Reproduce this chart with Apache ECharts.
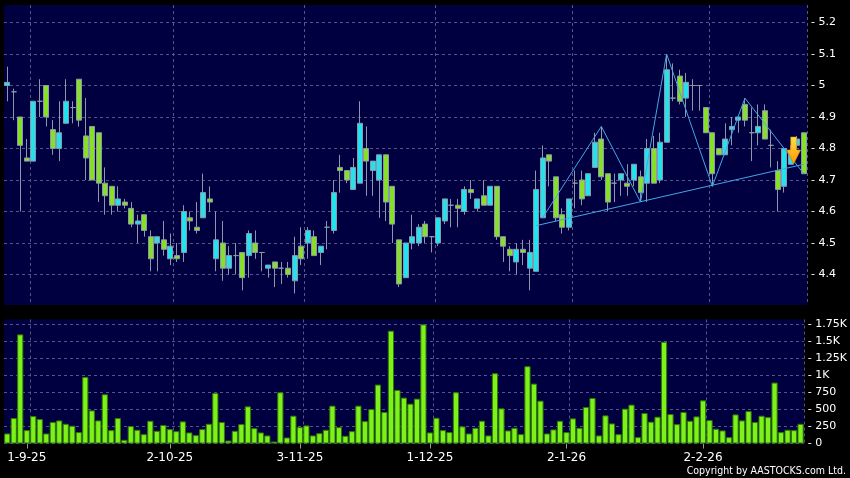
<!DOCTYPE html>
<html>
<head>
<meta charset="utf-8">
<script src="https://cdn.jsdelivr.net/npm/echarts@6/dist/echarts.min.js"></script>
<style>
html,body{margin:0;padding:0;background:#000;}
#c{width:850px;height:478px;}
</style>
</head>
<body>
<div id="c"></div>
<script>
const dates = [
'27-8-25','28-8-25','29-8-25',
'1-9-25','2-9-25','3-9-25','4-9-25','5-9-25','8-9-25','9-9-25','10-9-25','11-9-25','12-9-25','15-9-25','16-9-25','17-9-25','18-9-25','19-9-25','22-9-25','23-9-25','24-9-25','25-9-25','26-9-25','29-9-25','30-9-25',
'2-10-25','3-10-25','6-10-25','8-10-25','9-10-25','10-10-25','13-10-25','14-10-25','15-10-25','16-10-25','17-10-25','20-10-25','21-10-25','22-10-25','23-10-25','24-10-25','27-10-25','28-10-25','30-10-25','31-10-25',
'3-11-25','4-11-25','5-11-25','6-11-25','7-11-25','10-11-25','11-11-25','12-11-25','13-11-25','14-11-25','17-11-25','18-11-25','19-11-25','20-11-25','21-11-25','24-11-25','25-11-25','26-11-25','27-11-25','28-11-25',
'1-12-25','2-12-25','3-12-25','4-12-25','5-12-25','8-12-25','9-12-25','10-12-25','11-12-25','12-12-25','15-12-25','16-12-25','17-12-25','18-12-25','19-12-25','22-12-25','23-12-25','24-12-25','29-12-25','30-12-25','31-12-25',
'2-1-26','5-1-26','6-1-26','7-1-26','8-1-26','9-1-26','12-1-26','13-1-26','14-1-26','15-1-26','16-1-26','19-1-26','20-1-26','21-1-26','22-1-26','23-1-26','26-1-26','27-1-26','28-1-26','29-1-26','30-1-26',
'2-2-26','3-2-26','4-2-26','5-2-26','6-2-26','9-2-26','10-2-26','11-2-26','12-2-26','13-2-26','16-2-26','20-2-26','23-2-26','24-2-26','25-2-26','26-2-26'
];
const labelDates = ['1-9-25','2-10-25','3-11-25','1-12-25','2-1-26','2-2-26'];

const opens = [
5.00,4.98,4.90,4.77,4.76,4.95,5.00,4.86,4.80,4.88,
4.93,5.02,4.84,4.87,4.85,4.69,4.68,4.62,4.63,4.61,
4.56,4.59,4.52,4.50,4.51,4.45,4.46,4.47,4.58,4.55,
4.58,4.64,4.45,4.50,4.42,4.46,4.47,4.46,4.50,4.47,
4.42,4.44,4.42,4.42,4.38,4.49,4.50,4.52,4.47,4.55,
4.54,4.74,4.73,4.67,4.69,4.80,4.73,4.70,4.78,4.68,
4.51,4.39,4.50,4.50,4.56,4.52,4.50,4.57,4.62,4.62,
4.60,4.67,4.61,4.65,4.62,4.68,4.52,4.48,4.44,4.48,
4.42,4.41,4.58,4.78,4.71,4.59,4.55,4.69,4.70,4.65,
4.74,4.83,4.72,4.69,4.70,4.69,4.70,4.71,4.69,4.80,
4.70,4.82,4.96,5.03,4.96,5.00,5.00,4.93,4.85,4.80,
4.78,4.86,4.89,4.94,4.85,4.85,4.92,4.81,4.73,4.68,
4.75,4.81,4.85];
const closes = [
5.01,4.98,4.81,4.76,4.95,4.95,4.90,4.80,4.85,4.95,
4.93,4.89,4.77,4.70,4.69,4.65,4.62,4.64,4.62,4.56,
4.57,4.54,4.45,4.52,4.48,4.49,4.45,4.60,4.57,4.54,
4.66,4.63,4.51,4.42,4.46,4.46,4.39,4.53,4.47,4.47,
4.43,4.42,4.42,4.40,4.46,4.45,4.54,4.46,4.49,4.55,
4.66,4.73,4.70,4.74,4.88,4.76,4.76,4.78,4.63,4.56,
4.37,4.50,4.52,4.55,4.52,4.52,4.58,4.64,4.62,4.61,
4.67,4.66,4.64,4.62,4.68,4.52,4.49,4.46,4.48,4.47,
4.47,4.67,4.77,4.76,4.58,4.55,4.64,4.69,4.64,4.72,
4.82,4.71,4.63,4.69,4.72,4.68,4.75,4.66,4.80,4.69,
4.82,5.05,4.96,4.95,5.01,5.00,5.00,4.85,4.72,4.78,
4.83,4.87,4.90,4.89,4.85,4.87,4.83,4.81,4.67,4.80,
4.79,4.83,4.72];
const lows = [
4.95,4.89,4.60,4.76,4.76,4.90,4.87,4.78,4.76,4.88,
4.88,4.87,4.70,4.70,4.63,4.59,4.59,4.60,4.61,4.55,
4.50,4.52,4.41,4.41,4.46,4.43,4.44,4.44,4.54,4.53,
4.58,4.60,4.41,4.38,4.40,4.40,4.35,4.39,4.45,4.41,
4.39,4.36,4.37,4.39,4.34,4.43,4.45,4.46,4.43,4.48,
4.53,4.66,4.69,4.67,4.69,4.65,4.65,4.58,4.57,4.50,
4.36,4.39,4.48,4.49,4.50,4.47,4.49,4.56,4.55,4.55,
4.59,4.64,4.60,4.62,4.62,4.51,4.44,4.41,4.40,4.43,
4.35,4.41,4.58,4.68,4.57,4.53,4.54,4.61,4.62,4.65,
4.74,4.70,4.60,4.63,4.65,4.65,4.68,4.63,4.63,4.69,
4.69,4.82,4.95,4.94,4.90,4.92,4.92,4.85,4.68,4.78,
4.78,4.81,4.85,4.87,4.76,4.81,4.83,4.74,4.60,4.66,
4.75,4.80,4.72];
const highs = [
5.06,4.99,4.90,4.83,4.95,5.02,5.00,4.89,4.95,5.02,
4.95,5.02,4.96,4.87,4.85,4.74,4.68,4.68,4.64,4.63,
4.59,4.59,4.54,4.52,4.57,4.53,4.50,4.62,4.60,4.63,
4.72,4.68,4.60,4.57,4.49,4.50,4.47,4.54,4.54,4.47,
4.43,4.44,4.44,4.44,4.52,4.55,4.55,4.54,4.49,4.57,
4.70,4.78,4.73,4.77,4.95,4.87,4.76,4.78,4.78,4.68,
4.51,4.50,4.59,4.56,4.57,4.52,4.58,4.64,4.64,4.64,
4.68,4.70,4.64,4.70,4.68,4.68,4.52,4.49,4.50,4.51,
4.51,4.73,4.81,4.78,4.71,4.61,4.64,4.73,4.73,4.72,
4.85,4.87,4.72,4.72,4.72,4.75,4.75,4.73,4.83,4.84,
4.85,5.10,5.07,5.05,5.04,5.02,5.00,4.93,4.85,4.80,
4.88,4.90,4.90,4.96,4.93,4.94,4.94,4.86,4.76,4.80,
4.81,4.84,4.85];
const volumes = [
147,373,1598,196,402,358,147,314,338,289,260,167,975,485,338,721,196,373,54,255,201,137,333,186,270,211,181,324,162,123,211,289,740,314,44,186,284,544,225,162,118,29,750,
88,407,240,265,118,152,201,554,240,113,181,554,328,505,863,461,1652,784,672,583,657,1745,162,377,196,167,750,250,147,230,333,118,1029,515,191,230,137,1132,877,627,147,206,333,
167,368,230,534,667,118,412,294,137,510,569,93,446,319,392,1490,431,284,461,333,397,632,343,216,191,93,426,338,475,314,407,387,892,167,201,196,289];

// pattern overlay: [category index, price]
const zigzag = [[82,4.58],[91,4.87],[97,4.63],[101,5.10],[108,4.68],[113,4.96],[122,4.72]];
const supportLine = [[81,4.555],[122,4.75]];
const signalArrow = [120, 4.794];

const priceTicks = [4.4,4.5,4.6,4.7,4.8,4.9,5.0,5.1,5.2];
const volTicks = [0,250,500,750,1000,1250,1500,1750];

const candleData = dates.map((d,i)=>[opens[i],closes[i],lows[i],highs[i]]);

const FONT = 'DejaVu Sans';
const gridLine = {show:true, lineStyle:{color:'#55558c', type:[3,3], width:1}};
const splitIv = (idx)=> idx>0 && labelDates.indexOf(dates[idx-1])>=0;
const labelIv = (idx)=> labelDates.indexOf(dates[idx])>=0;

const chart = echarts.init(document.getElementById('c'), null, {renderer:'canvas'});
chart.setOption({
  animation:false,
  backgroundColor:'#000000',
  grid:[
    {left:4, width:803, top:5, height:300, show:true, backgroundColor:'#000040', borderWidth:0},
    {left:4, width:803, top:319.5, height:124, show:true, backgroundColor:'#000040', borderWidth:0}
  ],
  xAxis:[
    {type:'category', gridIndex:0, data:dates, boundaryGap:true,
     axisLine:{show:false}, axisTick:{show:false}, axisLabel:{show:false},
     splitLine:Object.assign({interval:splitIv}, gridLine)},
    {type:'category', gridIndex:1, data:dates, boundaryGap:true,
     axisLine:{show:false},
     axisTick:{show:true, alignWithLabel:true, interval:labelIv, length:5, lineStyle:{color:'#9a9a9a'}},
     axisLabel:{show:true, interval:labelIv, color:'#ffffff', fontFamily:FONT, fontSize:12, margin:8},
     splitLine:Object.assign({interval:splitIv}, gridLine)}
  ],
  yAxis:[
    {type:'value', gridIndex:0, position:'right', min:4.3032, max:5.2556,
     axisLine:{show:false}, axisTick:{show:false, customValues:priceTicks},
     axisLabel:{customValues:priceTicks, color:'#ffffff', fontFamily:FONT, fontSize:11, margin:4,
       formatter:(v)=>'- '+(+v.toFixed(2))},
     splitLine:gridLine},
    {type:'value', gridIndex:1, position:'right', min:0, max:1816,
     axisLine:{show:false}, axisTick:{show:false, customValues:volTicks},
     axisLabel:{customValues:volTicks, color:'#ffffff', fontFamily:FONT, fontSize:11, margin:4,
       formatter:(v)=>'- '+(v>=1000? (v/1000)+'K' : v)},
     splitLine:gridLine}
  ],
  series:[
    {type:'candlestick', xAxisIndex:0, yAxisIndex:0, data:candleData, barWidth:5.5,
     itemStyle:{color:'#22e2ee', color0:'#86e02a', borderColor:'#8c98aa', borderColor0:'#8c98aa', borderWidth:1},
     markPoint:{
       symbol:'path://M4,0 L10,0 L10,13 L14,13 L7,27 L0,13 L4,13 Z',
       symbolSize:[14,27], symbolOffset:[3,0], label:{show:false}, silent:true,
       data:[{coord:signalArrow,
         itemStyle:{color:new echarts.graphic.LinearGradient(0,0,0,1,[{offset:0,color:'#ffe14a'},{offset:1,color:'#ff9500'}]), borderColor:'#cc7a00', borderWidth:0.5}}]
     }, z:2},
    {type:'line', xAxisIndex:0, yAxisIndex:0, data:zigzag, symbol:'none', silent:true,
     lineStyle:{color:'#44a6e6', width:1}, z:3},
    {type:'line', xAxisIndex:0, yAxisIndex:0, data:supportLine, symbol:'none', silent:true,
     lineStyle:{color:'#44a6e6', width:1}, z:3},
    {type:'bar', xAxisIndex:1, yAxisIndex:1, data:volumes, barWidth:6.2,
     itemStyle:{color:'#7ef01a', borderColor:'#2f7a05', borderWidth:1}}
  ],
  graphic:[
    {type:'text', x:846, y:471.5, scaleX:0.86,
     style:{text:'Copyright by AASTOCKS.com Ltd.', fill:'#ffffff', font:'11px "DejaVu Sans"', align:'right', verticalAlign:'middle'}}
  ]
});
</script>
</body>
</html>
